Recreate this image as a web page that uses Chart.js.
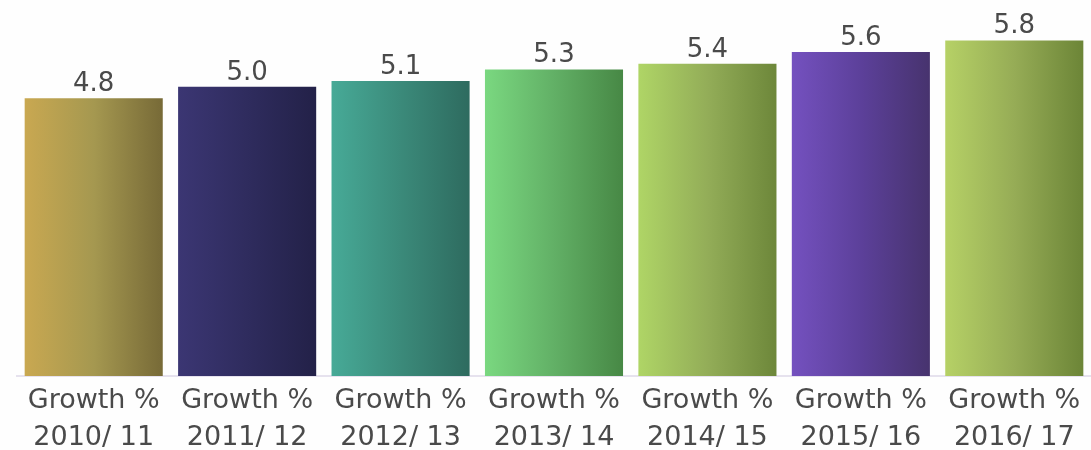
<!DOCTYPE html>
<html>
<head>
<meta charset="utf-8">
<script src="https://cdn.jsdelivr.net/npm/chart.js@4/dist/chart.umd.min.js"></script>
<style>
  html, body { margin: 0; padding: 0; background: #fefefe; }
  #wrap { width: 1091px; height: 450px; }
</style>
</head>
<body>
<div id="wrap"><canvas id="bars"></canvas></div>
<script>
// data
var periods = ['2010/ 11', '2011/ 12', '2012/ 13', '2013/ 14', '2014/ 15', '2015/ 16', '2016/ 17'];
var growth = [4.8, 5.0, 5.1, 5.3, 5.4, 5.6, 5.8];
var labelPrefix = 'Growth %';

// light -> dark, left to right across each bar
var barShades = [
  ['#c9a851', '#a59850', '#776a37'],
  ['#3b3673', '#2f2c5e', '#232148'],
  ['#47aa97', '#3b8a7a', '#2e6b5f'],
  ['#7ad880', '#62b066', '#478845'],
  ['#afd566', '#93ad58', '#6d873a'],
  ['#7451bf', '#5c409a', '#47336e'],
  ['#b6d166', '#96ac56', '#6c8537']
];

var gradientBars = {
  id: 'gradientBars',
  beforeDatasetsDraw: function(chart) {
    var ctx = chart.ctx;
    chart.getDatasetMeta(0).data.forEach(function(bar, i) {
      var left = bar.x - bar.width / 2;
      var g = ctx.createLinearGradient(left, 0, left + bar.width, 0);
      g.addColorStop(0, barShades[i][0]);
      g.addColorStop(0.5, barShades[i][1]);
      g.addColorStop(1, barShades[i][2]);
      bar.options.backgroundColor = g;
    });
  }
};

var valueLabels = {
  id: 'valueLabels',
  afterDatasetsDraw: function(chart) {
    var ctx = chart.ctx;
    ctx.save();
    ctx.font = '26px "DejaVu Sans", Verdana, sans-serif';
    ctx.fillStyle = '#4a4a4a';
    ctx.textAlign = 'center';
    ctx.textBaseline = 'alphabetic';
    chart.getDatasetMeta(0).data.forEach(function(bar, i) {
      ctx.fillText(growth[i].toFixed(1), bar.x, bar.y - 7);
    });
    ctx.restore();
  }
};

new Chart(document.getElementById('bars'), {
  type: 'bar',
  data: {
    labels: periods.map(function(p) { return [labelPrefix, p]; }),
    datasets: [{
      data: growth,
      backgroundColor: barShades.map(function(s) { return s[1]; }),
      borderWidth: 0,
      barPercentage: 0.9,
      categoryPercentage: 1.0
    }]
  },
  options: {
    responsive: true,
    maintainAspectRatio: false,
    animation: false,
    layout: { padding: { left: 17, right: 0, top: 0, bottom: 0 } },
    plugins: {
      legend: { display: false },
      tooltip: { enabled: false }
    },
    scales: {
      x: {
        grid: { display: false, drawTicks: false },
        border: { display: true, color: '#e6e2ee', width: 2 },
        ticks: {
          color: '#4a4a4a',
          padding: 6,
          maxRotation: 0,
          autoSkip: false,
          font: { family: '"DejaVu Sans", Verdana, sans-serif', size: 27, lineHeight: '37px' }
        },
        afterFit: function(scale) { scale.height = 74; }
      },
      y: {
        display: false,
        min: 0,
        max: 6.5
      }
    }
  },
  plugins: [gradientBars, valueLabels]
});
</script>
</body>
</html>
